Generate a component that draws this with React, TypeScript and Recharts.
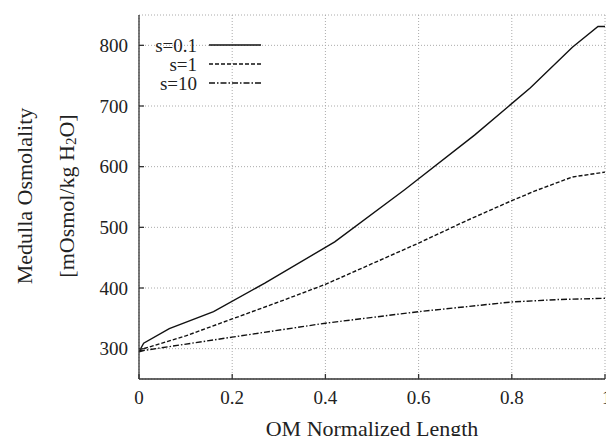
import React from 'react';
import { LineChart, Line, XAxis, YAxis, CartesianGrid, Legend } from 'recharts';

const xTicks = [0, 0.2, 0.4, 0.6, 0.8, 1];
const yTicks = [300, 400, 500, 600, 700, 800];

const s01X = [0, 0.01, 0.065, 0.16, 0.27, 0.42, 0.57, 0.72, 0.84, 0.93, 0.985, 1.0];
const s01Y = [295, 309, 333, 361, 408, 476, 562, 652, 730, 797, 831, 831];

const s1X = [0, 0.01, 0.1, 0.2, 0.3, 0.4, 0.5, 0.6, 0.7, 0.8, 0.85, 0.93, 1.0];
const s1Y = [295, 300, 321, 349, 377, 406, 440, 474, 510, 544, 560, 583, 591];

const s10X = [0, 0.01, 0.2, 0.4, 0.6, 0.8, 0.9, 1.0];
const s10Y = [295, 297, 319, 342, 361, 377, 381, 383];

const toPoints = (xs: number[], ys: number[]) => xs.map((x, i) => ({ x, y: ys[i] }));

const series = [
  { name: 's=0.1', data: toPoints(s01X, s01Y), dash: undefined as string | undefined },
  { name: 's=1', data: toPoints(s1X, s1Y), dash: '4 2' },
  { name: 's=10', data: toPoints(s10X, s10Y), dash: '6 2 1.5 2' },
];

const FONT = '"Liberation Serif", "Times New Roman", serif';
const tickStyle = { fontFamily: FONT, fontSize: 19, fill: '#222' };

// the last x label sits past the right edge in the original, so it gets cut
const XTick = (props: any) => {
  const { x, y, payload } = props;
  const last = payload.value === 1;
  return (
    <text x={x} y={y} dy="0.71em" textAnchor={last ? 'start' : 'middle'} {...tickStyle}>
      {payload.value}
    </text>
  );
};

const LegendBox = () => (
  <svg width={160} height={64} style={{ display: 'block' }}>
    {series.map((s, i) => (
      <g key={s.name}>
        <text x={60} y={8 + i * 19} textAnchor="end" dominantBaseline="central" fontFamily={FONT} fontSize={19} fill="#222">
          {s.name}
        </text>
        <line x1={72} x2={124} y1={8 + i * 19} y2={8 + i * 19} stroke="#111" strokeWidth={1.4} strokeDasharray={s.dash} />
      </g>
    ))}
  </svg>
);

const YLabel = () => (
  <g fontFamily={FONT} fontSize={22} fill="#222">
    <text x={24} y={196} textAnchor="middle" dominantBaseline="central" transform="rotate(-90, 24, 196)">
      Medulla Osmolality
    </text>
    <text x={66} y={196} textAnchor="middle" dominantBaseline="central" transform="rotate(-90, 66, 196)">
      <tspan>[mOsmol/kg H</tspan>
      <tspan dy={5} fontSize={15}>2</tspan>
      <tspan dy={-5}>O]</tspan>
    </text>
  </g>
);

export default function App() {
  return (
    <div style={{ position: 'absolute', left: 0, top: 0, width: 606, height: 436, background: '#fff', overflow: 'hidden' }}>
      <LineChart width={606} height={436} margin={{ top: 15, right: 1, bottom: 0, left: 0 }}>
        <CartesianGrid stroke="#aaa" strokeDasharray="1 2" />
        <XAxis
          type="number"
          dataKey="x"
          domain={[0, 1]}
          ticks={xTicks}
          allowDataOverflow
          height={57}
          tickSize={-5}
          tickMargin={17}
          tick={<XTick />}
          stroke="#333"
          strokeWidth={1.3}
          label={{ value: 'OM Normalized Length', position: 'insideBottom', offset: 0, style: { fontFamily: FONT, fontSize: 22, fill: '#222' } }}
        />
        <XAxis
          xAxisId="top"
          orientation="top"
          type="number"
          dataKey="x"
          domain={[0, 1]}
          ticks={xTicks}
          allowDataOverflow
          height={0}
          tickSize={-5}
          tickFormatter={() => ''}
          stroke="#333"
          strokeWidth={1.3}
        />
        <YAxis
          type="number"
          domain={[250, 850]}
          ticks={yTicks}
          allowDataOverflow
          width={139}
          tickSize={-5}
          tickMargin={16}
          tick={tickStyle}
          stroke="#333"
          strokeWidth={1.3}
          label={<YLabel />}
        />
        <YAxis
          yAxisId="right"
          orientation="right"
          type="number"
          domain={[250, 850]}
          ticks={yTicks}
          allowDataOverflow
          width={0}
          tickSize={-5}
          tickFormatter={() => ''}
          stroke="#333"
          strokeWidth={1.3}
        />
        <Legend
          layout="vertical"
          align="center"
          verticalAlign="middle"
          content={() => <LegendBox />}
          wrapperStyle={{ left: 137, top: 37, width: 160, height: 64 }}
        />
        {series.map((s) => (
          <Line
            key={s.name}
            name={s.name}
            data={s.data}
            dataKey="y"
            type="linear"
            stroke="#111"
            strokeWidth={1.4}
            strokeDasharray={s.dash}
            dot={false}
            isAnimationActive={false}
          />
        ))}
      </LineChart>
    </div>
  );
}
